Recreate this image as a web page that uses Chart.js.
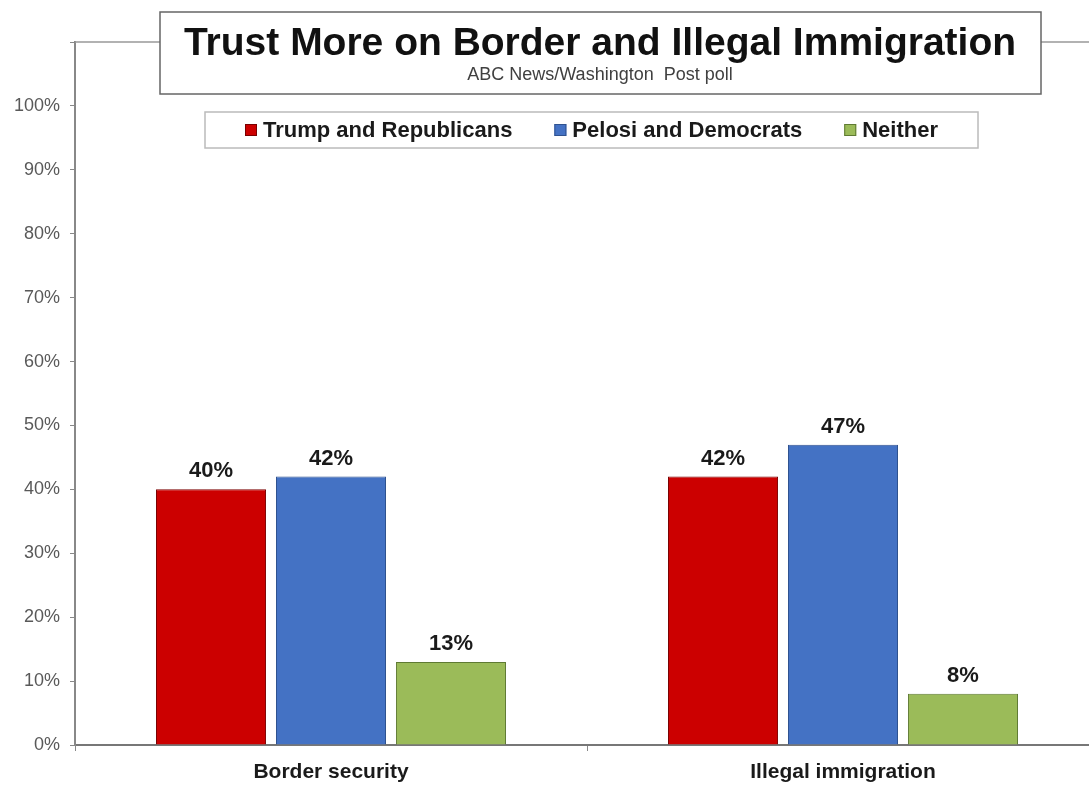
<!DOCTYPE html>
<html>
<head>
<meta charset="utf-8">
<title>Trust More on Border and Illegal Immigration</title>
<script src="https://cdn.jsdelivr.net/npm/chart.js@4/dist/chart.umd.min.js"></script>
<style>
  html, body { margin: 0; padding: 0; background: #fff; overflow: hidden; }
  #wrap { width: 1100px; height: 786px; position: relative; }
</style>
</head>
<body>
<div id="wrap"><canvas id="myChart"></canvas></div>
<script>
var categories = ['Border security', 'Illegal immigration']
var seriesNames = ['Trump and Republicans', 'Pelosi and Democrats', 'Neither']
var trumpRep = [40, 42]
var pelosiDem = [42, 47]
var neither = [13, 8]
var yMax = 110
var yStep = 10

var titleText = 'Trust More on Border and Illegal Immigration'
var subtitleText = 'ABC News/Washington  Post poll'

var FONT = '"Liberation Sans", Arial, Helvetica, sans-serif'

// value labels above the bars
var valueLabels = {
  id: 'valueLabels',
  afterDatasetsDraw: function (chart) {
    var ctx = chart.ctx
    ctx.save()
    ctx.font = 'bold 22px ' + FONT
    ctx.fillStyle = '#1a1a1a'
    ctx.textAlign = 'center'
    ctx.textBaseline = 'bottom'
    chart.data.datasets.forEach(function (ds, i) {
      chart.getDatasetMeta(i).data.forEach(function (bar, j) {
        ctx.fillText(ds.data[j] + '%', bar.x, bar.y - 7)
      })
    })
    ctx.restore()
  }
}

// top frame line, boxed title and boxed legend
var frame = {
  id: 'frame',
  afterDraw: function (chart) {
    var ctx = chart.ctx
    var area = chart.chartArea
    var yTop = chart.scales.y.getPixelForValue(yMax)
    ctx.save()
    ctx.strokeStyle = '#999'
    ctx.lineWidth = 1.5
    ctx.beginPath()
    ctx.moveTo(area.left, yTop)
    ctx.lineTo(area.right, yTop)
    ctx.stroke()

    // title box
    ctx.fillStyle = '#fff'
    ctx.fillRect(160, 12, 881, 82)
    ctx.strokeStyle = '#666'
    ctx.lineWidth = 1.5
    ctx.strokeRect(160, 12, 881, 82)
    ctx.textAlign = 'center'
    ctx.textBaseline = 'alphabetic'
    ctx.fillStyle = '#111'
    ctx.font = 'bold 39px ' + FONT
    ctx.fillText(titleText, 600, 55)
    ctx.fillStyle = '#404040'
    ctx.font = '18px ' + FONT
    ctx.fillText(subtitleText, 600, 80)

    // legend box
    ctx.fillStyle = '#fff'
    ctx.fillRect(205, 112, 773, 36)
    ctx.strokeStyle = '#bbb'
    ctx.lineWidth = 1.5
    ctx.strokeRect(205, 112, 773, 36)
    ctx.font = 'bold 22px ' + FONT
    ctx.textAlign = 'left'
    ctx.textBaseline = 'middle'
    var x = 245
    chart.data.datasets.forEach(function (ds) {
      ctx.fillStyle = ds.backgroundColor
      ctx.fillRect(x, 124, 12, 12)
      ctx.strokeStyle = ds.borderColor
      ctx.lineWidth = 1
      ctx.strokeRect(x + 0.5, 124.5, 11, 11)
      ctx.fillStyle = '#1a1a1a'
      ctx.fillText(ds.label, x + 18, 131)
      x += 18 + ctx.measureText(ds.label).width + 42
    })
    ctx.restore()
  }
}

var ctx = document.getElementById('myChart')
var myChart = new Chart(ctx, {
  type: 'bar',
  data: {
    labels: categories,
    datasets: [{
      label: seriesNames[0],
      data: trumpRep,
      backgroundColor: '#CC0000',
      borderColor: '#7a0000',
      borderWidth: 1
    }, {
      label: seriesNames[1],
      data: pelosiDem,
      backgroundColor: '#4472C4',
      borderColor: '#2f528f',
      borderWidth: 1
    }, {
      label: seriesNames[2],
      data: neither,
      backgroundColor: '#9BBB59',
      borderColor: '#5f7a33',
      borderWidth: 1
    }]
  },
  options: {
    responsive: true,
    maintainAspectRatio: false,
    animation: false,
    categoryPercentage: 0.703,
    barPercentage: 0.917,
    layout: { padding: { top: 42, right: 1, left: 0, bottom: 0 } },
    plugins: {
      legend: { display: false },
      title: { display: false },
      tooltip: { enabled: false }
    },
    scales: {
      x: {
        afterFit: function (scale) { scale.height = 41 },
        grid: { offset: true, drawOnChartArea: false, drawTicks: true, tickLength: 6, color: '#888' },
        border: { color: '#777', width: 2 },
        ticks: {
          padding: 9,
          color: '#1a1a1a',
          font: { family: FONT, size: 21, weight: 'bold' }
        }
      },
      y: {
        min: 0,
        max: yMax,
        afterFit: function (scale) { scale.width = 75 },
        grid: { drawOnChartArea: false, drawTicks: true, tickLength: 5, color: '#888' },
        border: { color: '#888', width: 2 },
        ticks: {
          stepSize: yStep,
          padding: 10,
          color: '#595959',
          font: { family: FONT, size: 18 },
          callback: function (v) { return v === yMax ? '' : v + '%' }
        }
      }
    }
  },
  plugins: [valueLabels, frame]
})
</script>
</body>
</html>
